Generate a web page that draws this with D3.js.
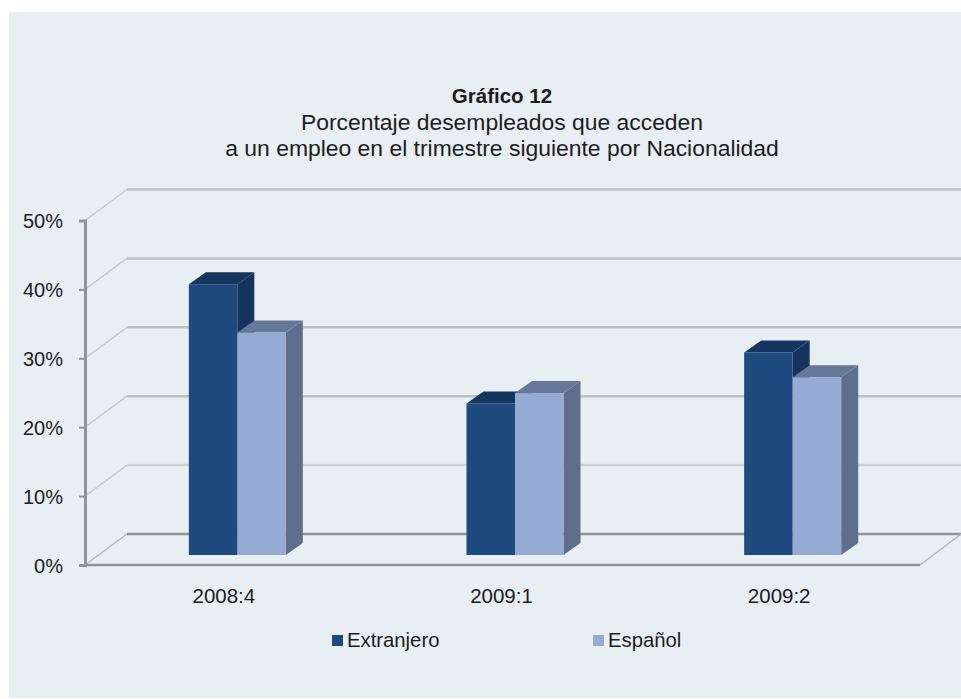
<!DOCTYPE html>
<html><head><meta charset="utf-8">
<script src="https://cdn.jsdelivr.net/npm/d3@7"></script>
<style>html,body{margin:0;padding:0;background:#fff}svg{display:block}text{font-family:"Liberation Sans",Arial,sans-serif;fill:#1c1c1c}</style>
</head><body><div id="chart"></div>
<script>
const categories = ["2008:4","2009:1","2009:2"];
const seriesNames = ["Extranjero","Español"];
const extranjero = [39.3,22,29.4];
const espanol = [32.3,23.5,25.8];
const yTicks = [0,10,20,30,40,50];
const titleLines = ["Gráfico 12","Porcentaje desempleados que acceden","a un empleo en el trimestre siguiente por Nacionalidad"];

const W=961,H=699;
const svg=d3.select("#chart").append("svg").attr("width",W).attr("height",H);
svg.append("rect").attr("x",9).attr("y",12).attr("width",W-9).attr("height",686).attr("fill","#e8eff3");

const y=d3.scaleLinear().domain([0,50]).range([565,220.5]);
const x=d3.scaleBand().domain(categories).range([85,918]);
const sx=d3.scaleBand().domain(seriesNames).range([0,97]);
const depthX=42, depthY=-31;
const barFrontX=13.5, barFrontY=-10, barDepthX=17, barDepthY=-12;

// walls
const grid=svg.append("g");
yTicks.forEach(t=>{
  const c=t===0?"#8f9499":(t===10?"#cdd1d4":"#bcc0c4");
  grid.append("line").attr("x1",85).attr("y1",y(t)).attr("x2",85+depthX).attr("y2",y(t)+depthY).attr("stroke",t>0?"#c6cace":"#b4b8bc").attr("stroke-width",1.5);
  grid.append("line").attr("x1",85+depthX).attr("y1",y(t)+depthY).attr("x2",W).attr("y2",y(t)+depthY).attr("stroke",c).attr("stroke-width",2.5);
});
grid.append("line").attr("x1",920).attr("y1",y(0)).attr("x2",W).attr("y2",y(0)+depthY).attr("stroke","#b4b8bc").attr("stroke-width",1.5);

// bars
const series=[{name:seriesNames[0],values:extranjero,front:"#1f4a80",top:"#17365f",side:"#15335c"},
              {name:seriesNames[1],values:espanol,front:"#95abd3",top:"#66789a",side:"#5f6e8c"}];
const bars=svg.append("g");
categories.forEach((cat,i)=>{
  const cx=x(cat)+x.bandwidth()/2+barFrontX-48.5;
  series.forEach(s=>{
    const x0=cx+sx(s.name), x1=x0+sx.bandwidth();
    const base=y(0)+barFrontY;
    const top=base-(y(0)-y(s.values[i]));
    const g=bars.append("g");
    const pts=a=>a.map(p=>p.join(",")).join(" ");
    g.append("polygon").attr("points",pts([[x1,top],[x1+barDepthX,top+barDepthY],[x1+barDepthX,base+barDepthY],[x1,base]])).attr("fill",s.side);
    g.append("polygon").attr("points",pts([[x0,top],[x0+barDepthX,top+barDepthY],[x1+barDepthX,top+barDepthY],[x1,top]])).attr("fill",s.top);
    g.append("rect").attr("x",x0).attr("y",top).attr("width",x1-x0).attr("height",base-top).attr("fill",s.front);
  });
});

// axes
const yAxis=d3.axisLeft(y).tickValues(yTicks).tickSize(6).tickPadding(16).tickFormat(d=>d+"%");
const ga=svg.append("g").attr("transform","translate(85,0)").call(yAxis);
ga.select(".domain").attr("stroke","#8f9499").attr("stroke-width",3);
ga.selectAll(".tick line").attr("stroke","#8f9499").attr("stroke-width",2);
ga.selectAll("text").attr("font-size",20).attr("dy","0.35em").attr("font-family","Liberation Sans").attr("fill","#1c1c1c");
const xAxis=d3.axisBottom(x).tickSize(0).tickPadding(23);
const gx=svg.append("g").attr("transform",`translate(0,${y(0)})`).call(xAxis);
gx.select(".domain").attr("d","M85,0H920").attr("stroke","#8f9499").attr("stroke-width",2.5);
gx.selectAll("text").attr("font-size",20.5).attr("font-family","Liberation Sans").attr("fill","#1c1c1c");

// title
titleLines.forEach((t,i)=>svg.append("text").attr("x",502).attr("y",[103,129.5,155.7][i]).attr("text-anchor","middle")
  .attr("font-size",i===0?20.5:22.9).attr("font-weight",i===0?"bold":"normal").text(t));

// legend
const legendX=[332,593];
series.forEach((s,i)=>{
  svg.append("rect").attr("x",legendX[i]).attr("y",635).attr("width",11).attr("height",11).attr("fill",s.front);
  svg.append("text").attr("x",legendX[i]+15).attr("y",647).attr("font-size",20.3).text(s.name);
});
</script></body></html>
